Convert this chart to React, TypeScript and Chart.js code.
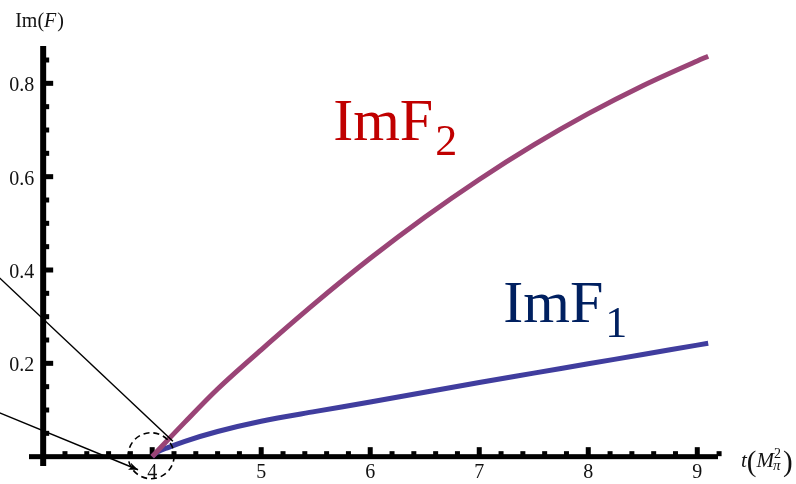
import React, { useEffect, useRef } from "react";
import { Chart, registerables } from "chart.js";

Chart.register(...registerables);

// Imaginary parts of the two form factors above the two-pion threshold (t in units of M_pi^2)
const tImF2 = [4, 4.1, 4.3, 4.6, 5, 5.5, 6, 6.5, 7, 7.5, 8, 8.5, 9, 9.1];
const imF2 = [0, 0.025, 0.074, 0.145, 0.229, 0.33, 0.425, 0.513, 0.594, 0.668, 0.735, 0.795, 0.848, 0.858];

const tImF1 = [4, 4.05, 4.15, 4.3, 4.6, 5, 5.5, 6, 6.5, 7, 7.5, 8, 8.5, 9, 9.1];
const imF1 = [0, 0.01, 0.02, 0.033, 0.054, 0.076, 0.097, 0.117, 0.138, 0.159, 0.179, 0.199, 0.219, 0.239, 0.243];

// Axis ticks
const xMajorTicks = [4, 5, 6, 7, 8, 9];
const yMajorTicks = [0.2, 0.4, 0.6, 0.8];
const xMinorStep = 0.2;
const yMinorStep = 0.05;

// Axis ranges; the axes cross at (t = 3, Im = 0)
const X_MIN = 2.87;
const X_MAX = 9.19;
const Y_MIN = -0.02;
const Y_MAX = 0.88;
const AXIS_T = 3;

const SERIF = "'Liberation Serif', 'Times New Roman', serif";

const toPoints = (xs: number[], ys: number[]) => xs.map((x, i) => ({ x, y: ys[i] }));

const axesPlugin = {
  id: "crossAxes",
  beforeDatasetsDraw(chart: any) {
    const { ctx } = chart;
    const xs = chart.scales.x;
    const ys = chart.scales.y;
    const ax = xs.getPixelForValue(AXIS_T);
    const ay = ys.getPixelForValue(0);
    ctx.save();
    ctx.fillStyle = "#000";

    // x axis line
    const xl = xs.getPixelForValue(X_MIN);
    const xr = xs.getPixelForValue(X_MAX);
    ctx.fillRect(xl, ay - 2.5, xr - xl, 5);
    // y axis line
    const yt = ys.getPixelForValue(Y_MAX);
    const yb = ys.getPixelForValue(Y_MIN);
    ctx.fillRect(ax - 3, yt, 6, yb - yt);

    // x ticks (pointing up)
    for (let k = 1; ; k++) {
      const v = AXIS_T + k * xMinorStep;
      if (v > X_MAX + 0.02) break;
      const major = xMajorTicks.some((m) => Math.abs(m - v) < 1e-6);
      const px = xs.getPixelForValue(v);
      const h = major ? 9 : 5;
      ctx.fillRect(px - 2.5, ay - 2.5 - h + 2, 5, h);
    }
    // y ticks (pointing right)
    for (let k = 1; ; k++) {
      const v = k * yMinorStep;
      if (v > Y_MAX) break;
      const major = yMajorTicks.some((m) => Math.abs(m - v) < 1e-6);
      const py = ys.getPixelForValue(v);
      const w = major ? 9 : 5;
      ctx.fillRect(ax + 3 - 2, py - 2.5, w, 5);
    }

    // tick labels
    ctx.fillStyle = "#111";
    ctx.font = `20px ${SERIF}`;
    ctx.textAlign = "center";
    ctx.textBaseline = "alphabetic";
    xMajorTicks.forEach((v) => {
      ctx.fillText(String(v), xs.getPixelForValue(v), ay + 21);
    });
    ctx.textAlign = "right";
    yMajorTicks.forEach((v) => {
      ctx.fillText(v.toFixed(1), ax - 9, ys.getPixelForValue(v) + 8);
    });

    // axis titles
    ctx.textAlign = "left";
    let x = ax - 28;
    const by = yt - 19;
    ctx.font = `20px ${SERIF}`;
    ctx.fillText("Im(", x, by);
    x += ctx.measureText("Im(").width;
    ctx.font = `italic 20px ${SERIF}`;
    ctx.fillText("F", x, by);
    x += ctx.measureText("F").width + 1;
    ctx.font = `20px ${SERIF}`;
    ctx.fillText(")", x, by);

    let tx = xr + 23;
    const tb = ay + 10;
    ctx.font = `italic 21px ${SERIF}`;
    ctx.fillText("t", tx, tb);
    tx += ctx.measureText("t").width;
    ctx.font = `29px ${SERIF}`;
    ctx.fillText("(", tx, tb + 4);
    tx += ctx.measureText("(").width;
    ctx.font = `italic 21px ${SERIF}`;
    ctx.fillText("M", tx, tb);
    tx += ctx.measureText("M").width;
    ctx.font = `14px ${SERIF}`;
    ctx.fillText("2", tx, tb - 9);
    ctx.font = `italic 15px ${SERIF}`;
    ctx.fillText("\u03c0", tx - 1, tb + 3);
    tx += 9;
    ctx.font = `29px ${SERIF}`;
    ctx.fillText(")", tx, tb + 4);
    ctx.restore();
  },
};

// Series names, the threshold circle and the two pointer lines, placed in data coordinates
const labelF2 = { t: 5.66, v: 0.678, color: "#C00000", sub: "2" };
const labelF1 = { t: 7.22, v: 0.289, color: "#002060", sub: "1" };
const thresholdCircle = { t: 3.99, v: 0.002, r: 23 };
const pointerLines = [
  { from: [2.6, 0.383], to: [4.19, 0.033], arrow: false },
  { from: [2.6, 0.094], to: [3.87, -0.028], arrow: true },
];

const annotationPlugin = {
  id: "annotations",
  afterDatasetsDraw(chart: any) {
    const { ctx } = chart;
    const xs = chart.scales.x;
    const ys = chart.scales.y;
    ctx.save();

    [labelF2, labelF1].forEach((l) => {
      const px = xs.getPixelForValue(l.t);
      const py = ys.getPixelForValue(l.v);
      ctx.fillStyle = l.color;
      ctx.textAlign = "left";
      ctx.textBaseline = "alphabetic";
      ctx.font = `60px ${SERIF}`;
      ctx.fillText("ImF", px, py);
      const w = ctx.measureText("ImF").width;
      ctx.font = `44px ${SERIF}`;
      ctx.fillText(l.sub, px + w + 2, py + 15);
    });

    // dashed circle around the threshold
    ctx.strokeStyle = "#000";
    ctx.lineWidth = 1.6;
    ctx.setLineDash([6, 4]);
    ctx.beginPath();
    ctx.arc(
      xs.getPixelForValue(thresholdCircle.t),
      ys.getPixelForValue(thresholdCircle.v),
      thresholdCircle.r,
      0,
      Math.PI * 2
    );
    ctx.stroke();
    ctx.setLineDash([]);

    ctx.lineWidth = 1.5;
    pointerLines.forEach((ln) => {
      const x0 = xs.getPixelForValue(ln.from[0]);
      const y0 = ys.getPixelForValue(ln.from[1]);
      const x1 = xs.getPixelForValue(ln.to[0]);
      const y1 = ys.getPixelForValue(ln.to[1]);
      ctx.beginPath();
      ctx.moveTo(x0, y0);
      ctx.lineTo(x1, y1);
      ctx.stroke();
      if (ln.arrow) {
        const a = Math.atan2(y1 - y0, x1 - x0);
        const len = 10;
        const hw = 0.38;
        ctx.beginPath();
        ctx.moveTo(x1, y1);
        ctx.lineTo(x1 - len * Math.cos(a - hw), y1 - len * Math.sin(a - hw));
        ctx.lineTo(x1 - len * 0.7 * Math.cos(a), y1 - len * 0.7 * Math.sin(a));
        ctx.lineTo(x1 - len * Math.cos(a + hw), y1 - len * Math.sin(a + hw));
        ctx.closePath();
        ctx.fillStyle = "#000";
        ctx.fill();
      }
    });
    ctx.restore();
  },
};

export default function App() {
  const canvasRef = useRef<HTMLCanvasElement | null>(null);

  useEffect(() => {
    if (!canvasRef.current) return;
    const chart = new Chart(canvasRef.current, {
      type: "line",
      data: {
        datasets: [
          {
            label: "ImF2",
            data: toPoints(tImF2, imF2),
            borderColor: "#9a4476",
            borderWidth: 5,
            pointRadius: 0,
            cubicInterpolationMode: "monotone",
            fill: false,
          },
          {
            label: "ImF1",
            data: toPoints(tImF1, imF1),
            borderColor: "#403d9e",
            borderWidth: 5,
            pointRadius: 0,
            cubicInterpolationMode: "monotone",
            fill: false,
          },
        ],
      },
      options: {
        animation: false,
        responsive: false,
        devicePixelRatio: 1,
        layout: { padding: { left: 29, right: 78, top: 46, bottom: 18 } },
        plugins: { legend: { display: false }, tooltip: { enabled: false } },
        scales: {
          x: { type: "linear", min: X_MIN, max: X_MAX, display: false },
          y: { type: "linear", min: Y_MIN, max: Y_MAX, display: false },
        },
      },
      plugins: [axesPlugin, annotationPlugin],
    });
    return () => chart.destroy();
  }, []);

  return (
    <div style={{ position: "absolute", left: 0, top: 0, width: 796, height: 484, background: "#fff" }}>
      <canvas ref={canvasRef} width={796} height={484} />
    </div>
  );
}
